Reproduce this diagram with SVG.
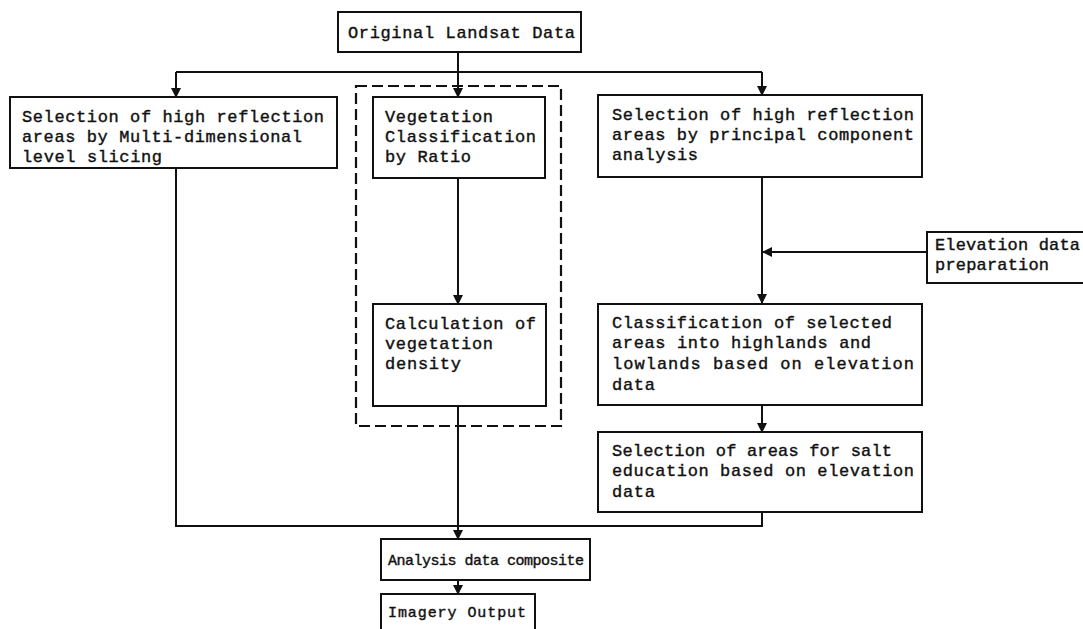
<svg xmlns="http://www.w3.org/2000/svg" width="1083" height="629" viewBox="0 0 1083 629">
<style>
.box{fill:#fff;stroke:#111;stroke-width:2}
.dash{fill:none;stroke:#111;stroke-width:2.2;stroke-dasharray:11,5}
.t{font-family:"Liberation Mono","DejaVu Sans Mono",monospace;font-size:17px;fill:#111;stroke:#111;stroke-width:0.4}
.s{font-size:15px}
.c{fill:none;stroke:#111;stroke-width:2}
</style>
<defs>
<marker id="ah" markerWidth="10" markerHeight="10" refX="9" refY="5" orient="auto" markerUnits="userSpaceOnUse">
<path d="M0,0 L10,5 L0,10 Z" fill="#111"/>
</marker>
</defs>
<rect width="1083" height="629" fill="#fff"/>
<g id="connectors">
<path class="c" d="M458,52 V97" marker-end="url(#ah)"/>
<path class="c" d="M176,72 H762"/>
<path class="c" d="M176,72 V97" marker-end="url(#ah)"/>
<path class="c" d="M762,72 V95" marker-end="url(#ah)"/>
<path class="c" d="M458,178 V304" marker-end="url(#ah)"/>
<path class="c" d="M458,406 V539" marker-end="url(#ah)"/>
<path class="c" d="M176,168 V526 H762 V512"/>
<path class="c" d="M762,177 V303" marker-end="url(#ah)"/>
<path class="c" d="M927,252 H763" marker-end="url(#ah)"/>
<path class="c" d="M762,405 V432" marker-end="url(#ah)"/>
<path class="c" d="M458,580 V594" marker-end="url(#ah)"/>
</g>
<g id="n-original">
<rect class="box" x="338" y="12" width="243" height="40"/>
<text class="t" x="348" y="38" textLength="227">Original Landsat Data</text>
</g>
<g id="n-left">
<rect class="box" x="10" y="97" width="327" height="71"/>
<text class="t" x="22" y="122" textLength="302">Selection of high reflection</text>
<text class="t" x="22" y="142" textLength="280">areas by Multi-dimensional</text>
<text class="t" x="22" y="162" textLength="140">level slicing</text>
</g>
<g id="n-group">
<rect class="dash" x="356" y="86" width="205" height="340"/>
</g>
<g id="n-veg">
<rect class="box" x="373" y="97" width="172" height="81"/>
<text class="t" x="385" y="122" textLength="108">Vegetation</text>
<text class="t" x="385" y="142" textLength="151">Classification</text>
<text class="t" x="385" y="162" textLength="86">by Ratio</text>
</g>
<g id="n-calc">
<rect class="box" x="373" y="304" width="173" height="102"/>
<text class="t" x="385" y="329" textLength="151">Calculation of</text>
<text class="t" x="385" y="349" textLength="108">vegetation</text>
<text class="t" x="385" y="369" textLength="76">density</text>
</g>
<g id="n-pca">
<rect class="box" x="598" y="95" width="324" height="82"/>
<text class="t" x="612" y="120" textLength="302">Selection of high reflection</text>
<text class="t" x="612" y="140" textLength="302">areas by principal component</text>
<text class="t" x="612" y="160" textLength="86">analysis</text>
</g>
<g id="n-elev">
<rect class="box" x="927" y="232" width="170" height="51"/>
<text class="t" x="935" y="250" textLength="145">Elevation data</text>
<text class="t" x="935" y="270" textLength="114">preparation</text>
</g>
<g id="n-class">
<rect class="box" x="598" y="304" width="324" height="101"/>
<text class="t" x="612" y="328" textLength="280">Classification of selected</text>
<text class="t" x="612" y="348" textLength="259">areas into highlands and</text>
<text class="t" x="612" y="369" textLength="302">lowlands based on elevation</text>
<text class="t" x="612" y="390" textLength="43">data</text>
</g>
<g id="n-salt">
<rect class="box" x="598" y="432" width="324" height="80"/>
<text class="t" x="612" y="456" textLength="280">Selection of areas for salt</text>
<text class="t" x="612" y="476" textLength="302">education based on elevation</text>
<text class="t" x="612" y="497" textLength="43">data</text>
</g>
<g id="n-composite">
<rect class="box" x="381" y="539" width="209" height="41"/>
<text class="t s" x="388" y="565" textLength="196">Analysis data composite</text>
</g>
<g id="n-output">
<rect class="box" x="381" y="594" width="154" height="40"/>
<text class="t s" x="388" y="617" textLength="138">Imagery Output</text>
</g>
</svg>
